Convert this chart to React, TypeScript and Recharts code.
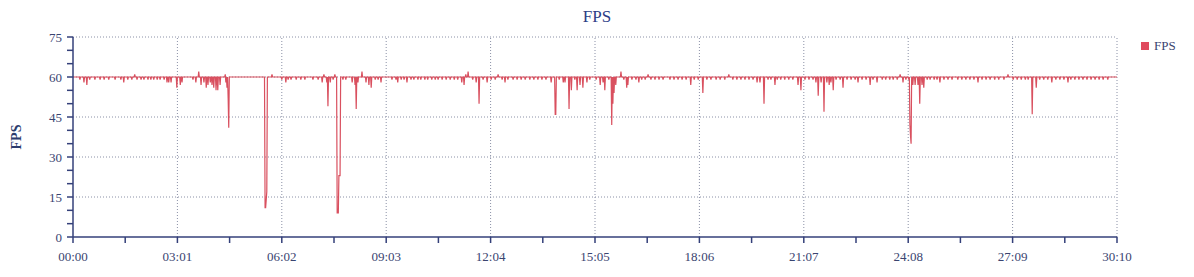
import { LineChart, Line, XAxis, YAxis, ReferenceLine } from 'recharts';

// Session length in seconds (30:10)
const DURATION = 1810;
const BASELINE_FPS = 60;

// Frames that left the 60 fps baseline: [second, fps]
const dips: [number, number][] = [
  [12, 59], [19, 58], [24, 57], [29, 59], [38, 59], [47, 59], [54, 59], [62, 59],
  [73, 59], [83, 59], [88, 58], [95, 59], [102, 59], [107, 61], [111, 59], [118, 59],
  [123, 59], [130, 59], [135, 59], [140, 59], [146, 59], [151, 59], [158, 59], [163, 58],
  [166, 58], [170, 58], [180, 56], [186, 57], [189, 58], [208, 59], [213, 58], [218, 62],
  [222, 57], [227, 58], [231, 56], [234, 57], [238, 58], [241, 57], [244, 56], [248, 55],
  [251, 55], [255, 57], [264, 61], [265, 58], [267, 56], [269, 52], [270, 41],
  [333, 11], [334, 11], [335, 14], [336, 17], [345, 61],
  [362, 59], [369, 58], [373, 59], [378, 59], [387, 59], [395, 59], [402, 59], [416, 59],
  [425, 59], [432, 58], [435, 61], [440, 58], [442, 49], [446, 58], [451, 59], [454, 61],
  [458, 9], [459, 9], [460, 9], [461, 23], [462, 23], [463, 23],
  [468, 59], [473, 59], [484, 58], [489, 57], [491, 48], [494, 58], [501, 62], [508, 58],
  [513, 57], [517, 56], [524, 59], [529, 59], [534, 58], [553, 59], [560, 59], [563, 58],
  [569, 59], [574, 59], [579, 58], [586, 59], [591, 59], [598, 59], [603, 59], [610, 59],
  [615, 59], [622, 59], [628, 59], [633, 59], [640, 59], [647, 59], [654, 59], [661, 59],
  [667, 59], [674, 58], [678, 57], [681, 61], [685, 62], [693, 59], [699, 58], [704, 50],
  [711, 59], [718, 58], [725, 59], [732, 59], [737, 61], [744, 59], [749, 58], [754, 59],
  [763, 59], [770, 59], [777, 59], [784, 59], [792, 59], [799, 59], [806, 59], [813, 59],
  [820, 59], [829, 58], [836, 46], [837, 46], [843, 59], [850, 58], [853, 58], [860, 48],
  [864, 55], [870, 59], [874, 55], [879, 57], [884, 56], [891, 58], [896, 59], [907, 59],
  [914, 57], [919, 58], [922, 55], [929, 59], [934, 42], [936, 50], [938, 54], [941, 57],
  [950, 62], [955, 59], [960, 56], [962, 57], [969, 59], [976, 59], [981, 58], [986, 59],
  [992, 59], [997, 61], [1002, 59], [1009, 59], [1016, 59], [1023, 59], [1035, 59],
  [1042, 59], [1049, 59], [1056, 59], [1063, 59], [1071, 57], [1077, 59], [1084, 59],
  [1092, 54], [1099, 59], [1106, 59], [1115, 59], [1122, 59], [1130, 59], [1137, 61],
  [1144, 59], [1151, 59], [1158, 59], [1165, 59], [1172, 59], [1179, 59], [1186, 58],
  [1191, 58], [1198, 50], [1205, 59], [1210, 59], [1217, 57], [1221, 59], [1227, 59],
  [1234, 59], [1241, 59], [1248, 59], [1257, 57], [1262, 55], [1269, 59], [1276, 59],
  [1283, 59], [1288, 58], [1292, 53], [1297, 58], [1302, 47], [1307, 58], [1311, 57],
  [1314, 58], [1318, 55], [1323, 59], [1330, 59], [1335, 56], [1342, 59], [1349, 59],
  [1356, 59], [1361, 58], [1368, 59], [1375, 59], [1382, 57], [1387, 59], [1394, 58],
  [1403, 59], [1409, 59], [1416, 59], [1422, 59], [1429, 59], [1434, 61], [1439, 58],
  [1444, 59], [1449, 59], [1451, 42], [1452, 38], [1453, 35], [1456, 57], [1460, 57],
  [1465, 57], [1468, 50], [1472, 57], [1475, 56], [1481, 59], [1486, 59], [1493, 59],
  [1498, 59], [1503, 58], [1510, 59], [1517, 59], [1524, 59], [1534, 59], [1541, 59],
  [1548, 59], [1555, 59], [1562, 59], [1569, 58], [1576, 59], [1583, 59], [1590, 59],
  [1598, 59], [1605, 59], [1614, 59], [1621, 61], [1630, 59], [1637, 59], [1644, 59],
  [1651, 59], [1656, 59], [1663, 46], [1670, 56], [1676, 59], [1683, 59], [1690, 59],
  [1697, 58], [1704, 59], [1711, 59], [1718, 59], [1725, 58], [1730, 59], [1737, 59],
  [1744, 59], [1751, 59], [1758, 59], [1765, 59], [1772, 59], [1779, 59], [1786, 59],
  [1794, 59],
];

const xMajorTicks = [0, 181, 362, 543, 724, 905, 1086, 1267, 1448, 1629, 1810];
const xMinorTicks = [90.5, 271.5, 452.5, 633.5, 814.5, 995.5, 1176.5, 1357.5, 1538.5, 1719.5];
const yTicks = [0, 5, 10, 15, 20, 25, 30, 35, 40, 45, 50, 55, 60, 65, 70, 75];
const yGridLines = [15, 30, 45, 60, 75];

const dipMap = new Map(dips);
const data = Array.from({ length: DURATION + 1 }, (_, t) => ({
  t,
  fps: dipMap.get(t) ?? BASELINE_FPS,
}));

const LINE_COLOR = '#d9505f';
const AXIS_COLOR = '#34407a';
const TEXT_COLOR = '#3a4470';
const GRID_COLOR = '#8a90a6';
const FONT = '"Liberation Serif", "DejaVu Serif", serif';

const formatTime = (v: number) => {
  if (v % 181 !== 0) return '';
  const m = Math.floor(v / 60);
  const s = v % 60;
  return `${String(m).padStart(2, '0')}:${String(s).padStart(2, '0')}`;
};

export default function App() {
  const xTicks = [...xMajorTicks, ...xMinorTicks].sort((a, b) => a - b);
  return (
    <div style={{ position: 'absolute', left: 0, top: 0, width: 1194, height: 277, fontFamily: FONT }}>
      <div
        style={{
          position: 'absolute',
          top: 7,
          left: 0,
          width: 1194,
          textAlign: 'center',
          fontSize: 17,
          color: '#2c3d86',
          lineHeight: '20px',
        }}
      >
        FPS
      </div>
      <div style={{ position: 'absolute', left: 1141, top: 38, display: 'flex', alignItems: 'center', fontSize: 13, color: TEXT_COLOR }}>
        <span style={{ width: 8, height: 8, background: '#e04a5e', display: 'inline-block', marginRight: 5 }} />
        <span>FPS</span>
      </div>
      <LineChart width={1194} height={277} data={data} margin={{ top: 37, right: 77, bottom: 0, left: 13 }}>
        <XAxis
          dataKey="t"
          type="number"
          domain={[0, DURATION]}
          ticks={xTicks}
          tickFormatter={formatTime}
          interval={0}
          height={40}
          stroke={AXIS_COLOR}
          strokeWidth={1.5}
          tickSize={6}
          tickMargin={9}
          tick={{ fill: TEXT_COLOR, fontSize: 13, fontFamily: FONT }}
        />
        <YAxis
          type="number"
          domain={[0, 75]}
          ticks={yTicks}
          interval={0}
          tickFormatter={(v: number) => (v % 15 === 0 ? String(v) : '')}
          width={60}
          stroke={AXIS_COLOR}
          strokeWidth={1.5}
          tickSize={6}
          tickMargin={5}
          tick={{ fill: TEXT_COLOR, fontSize: 13, fontFamily: FONT }}
          label={{
            value: 'FPS',
            angle: -90,
            position: 'insideLeft',
            offset: 3,
            style: { textAnchor: 'middle', fontSize: 14, fontWeight: 'bold', fill: '#2c3d6e', fontFamily: FONT },
          }}
        />
        {yGridLines.map((y) => (
          <ReferenceLine key={`h${y}`} y={y} stroke={GRID_COLOR} strokeDasharray="1 2" />
        ))}
        {xMajorTicks.slice(1).map((x) => (
          <ReferenceLine key={`v${x}`} x={x} stroke={GRID_COLOR} strokeDasharray="1 2" />
        ))}
        <Line
          type="linear"
          dataKey="fps"
          stroke={LINE_COLOR}
          strokeWidth={1.2}
          dot={false}
          activeDot={false}
          isAnimationActive={false}
        />
      </LineChart>
    </div>
  );
}
